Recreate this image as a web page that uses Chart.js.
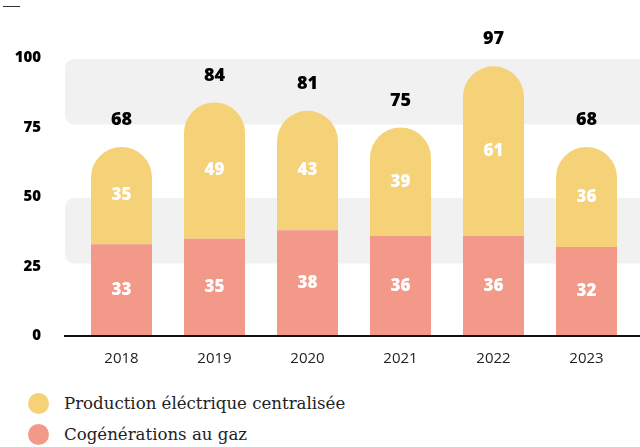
<!DOCTYPE html>
<html>
<head>
<meta charset="utf-8">
<script src="https://cdn.jsdelivr.net/npm/chart.js@4/dist/chart.umd.min.js"></script>
<style>
  body { margin: 0; background: #fff; width: 640px; height: 447px; overflow: hidden; position: relative; }
  .dash { position: absolute; left: 3px; top: 6px; width: 17px; height: 1px; background: #333; }
  #chart { position: absolute; left: 0; top: 0; }
  .legend { position: absolute; left: 28px; top: 388px; font-family: "DejaVu Serif", serif; font-size: 16.6px; color: #222; }
  .legend div { display: flex; align-items: center; height: 31px; }
  .legend span.dot { width: 21px; height: 21px; border-radius: 50%; display: inline-block; margin-right: 15px; }
</style>
</head>
<body>
<div class="dash"></div>
<canvas id="chart" width="640" height="380"></canvas>
<div class="legend">
  <div><span class="dot" style="background:#f5d277"></span>Production éléctrique centralisée</div>
  <div><span class="dot" style="background:#f2998a"></span>Cogénérations au gaz</div>
</div>
<script>
// DATA
const years = ["2018", "2019", "2020", "2021", "2022", "2023"];
const cogeneration = [33, 35, 38, 36, 36, 32];
const production = [35, 49, 43, 39, 61, 36];
const yTicks = [0, 25, 50, 75, 100];

const pink = "#f2998a";
const yellow = "#f5d277";
const numFont = "'Open Sans', sans-serif";

// grey rounded bands + baseline
const bandsPlugin = {
  id: "bands",
  beforeDatasetsDraw(chart) {
    const { ctx, scales: { y } } = chart;
    ctx.save();
    ctx.fillStyle = "#f1f1f1";
    [[25, 50], [75, 100]].forEach(([lo, hi]) => {
      const top = y.getPixelForValue(hi) + 1;
      const bottom = y.getPixelForValue(lo) - 3;
      ctx.beginPath();
      ctx.roundRect(65, top, 640 - 65 + 10, bottom - top, 9);
      ctx.fill();
    });
    ctx.restore();
  },
  afterDatasetsDraw(chart) {
    const { ctx, chartArea } = chart;
    ctx.save();
    ctx.strokeStyle = "#111";
    ctx.lineWidth = 2;
    ctx.beginPath();
    ctx.moveTo(64, chartArea.bottom);
    ctx.lineTo(640, chartArea.bottom);
    ctx.stroke();
    ctx.restore();
  }
};

// value labels inside and totals on top
const labelsPlugin = {
  id: "labels",
  afterDatasetsDraw(chart) {
    const { ctx } = chart;
    ctx.save();
    ctx.textAlign = "center";
    ctx.textBaseline = "middle";
    ctx.font = "800 17px " + numFont;
    ctx.fillStyle = "#fff";
    chart.data.datasets.forEach((ds, i) => {
      chart.getDatasetMeta(i).data.forEach((bar, j) => {
        ctx.fillText(ds.data[j], bar.x, (bar.y + bar.base) / 2);
      });
    });
    const topMeta = chart.getDatasetMeta(1).data;
    ctx.fillStyle = "#000";
    ctx.font = "800 18px " + numFont;
    topMeta.forEach((bar, j) => {
      ctx.fillText(cogeneration[j] + production[j], bar.x, bar.y - 27);
    });
    ctx.restore();
  }
};

new Chart(document.getElementById("chart"), {
  type: "bar",
  data: {
    labels: years,
    datasets: [
      { label: "Cogénérations au gaz", data: cogeneration, backgroundColor: pink, borderWidth: 0 },
      { label: "Production éléctrique centralisée", data: production, backgroundColor: yellow, borderWidth: 0,
        borderRadius: { topLeft: 40, topRight: 40, bottomLeft: 0, bottomRight: 0 }, borderSkipped: false }
    ]
  },
  options: {
    responsive: false,
    animation: false,
    layout: { padding: { top: 58, right: 7, bottom: 4, left: 0 } },
    datasets: { bar: { categoryPercentage: 1, barPercentage: 0.656 } },
    plugins: { legend: { display: false }, tooltip: { enabled: false } },
    scales: {
      x: {
        stacked: true,
        grid: { display: false, drawTicks: false },
        border: { display: false },
        ticks: { color: "#222", font: { family: numFont, size: 15 }, padding: 14 },
        afterFit(scale) { scale.height = 40; }
      },
      y: {
        stacked: true,
        min: 0, max: 100,
        afterBuildTicks(scale) { scale.ticks = yTicks.map(v => ({ value: v })); },
        grid: { display: false, drawTicks: false },
        border: { display: false },
        ticks: { color: "#000", font: { family: numFont, size: 15, weight: "800" }, padding: 34 },
        afterFit(scale) { scale.width = 75; }
      }
    }
  },
  plugins: [bandsPlugin, labelsPlugin]
});
</script>
</body>
</html>
